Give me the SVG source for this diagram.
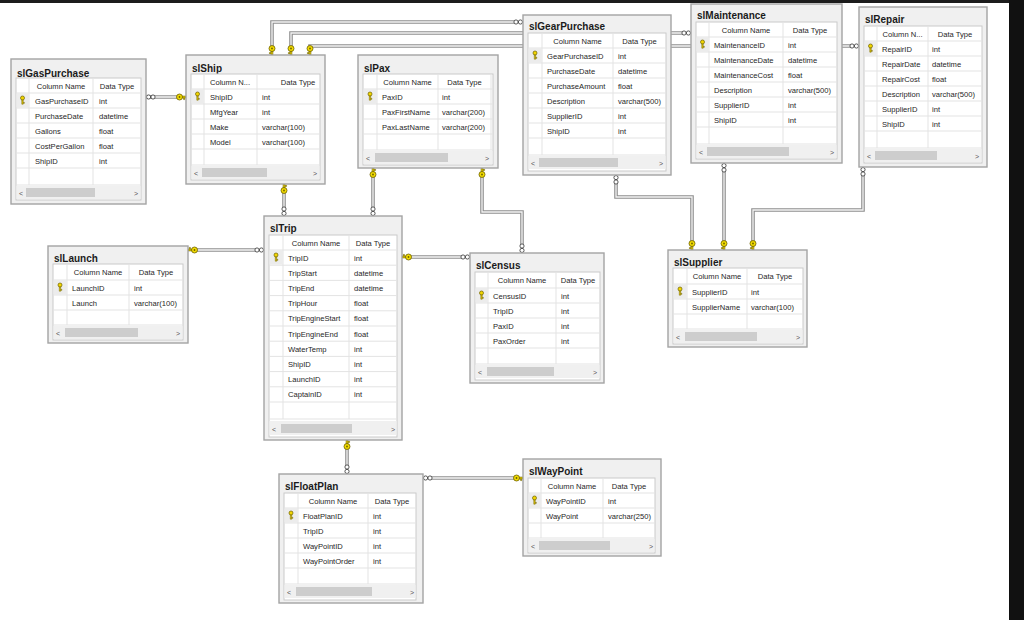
<svg xmlns="http://www.w3.org/2000/svg" xmlns:xlink="http://www.w3.org/1999/xlink" width="1024" height="620" viewBox="0 0 1024 620">
<style>
.box{fill:#f0f0f0;stroke:#a3a3a3;stroke-width:1.4}
.grid{fill:#fff;stroke:#cacaca;stroke-width:1}
.gl{stroke:#e3e3e3;stroke-width:1;fill:none}
.pkc{fill:#ececec}
.title{font-family:"Liberation Sans",Arial,sans-serif;font-weight:bold;font-size:10px;fill:#1b1b1b}
.t{font-family:"Liberation Sans",Arial,sans-serif;font-size:7.6px;fill:#262626}
.hd{font-family:"Liberation Sans",Arial,sans-serif;font-size:7.6px;fill:#262626;text-anchor:middle}
.sb{fill:#f0f0f0}
.th{fill:#cdcdcd}
.ar{font-family:"Liberation Sans",Arial,sans-serif;font-size:7px;fill:#555}
.co{fill:none;stroke:#8f8f8f;stroke-width:3.6}
.ci{fill:none;stroke:#f4f4f4;stroke-width:1.3}
</style>
<defs>
<g id="pk"><circle cx="0" cy="-2" r="2" fill="#f2d600" stroke="#6d6000" stroke-width=".7"/><path d="M-0.7 0V4.2H0.7V0Z M0.7 2.4H1.9V3.3H0.7" fill="#e6c800" stroke="#6d6000" stroke-width=".5"/></g>
<g id="kR"><path d="M-4 -0.9H0V0.9H-4Z M-2.4 0.9V2.6H-1.3V0.9" fill="#e8d000" stroke="#6d6000" stroke-width=".6"/><circle cx="-6.5" cy="0" r="3" fill="#f2dc00" stroke="#6d6000" stroke-width=".8"/><circle cx="-6.5" cy="0" r="0.9" fill="#6d6000"/></g>
<g id="iR"><circle cx="-2.6" cy="0" r="2.1" fill="#fff" stroke="#333" stroke-width=".8"/><circle cx="-7" cy="0" r="2.1" fill="#fff" stroke="#333" stroke-width=".8"/></g>
</defs>
<rect x="0" y="0" width="1024" height="620" fill="#fff"/>
<rect x="0" y="0" width="1024" height="3" fill="#1c1c1c"/>
<rect x="1009" y="0" width="15" height="620" fill="#111"/>

<g id="connectors">
<path class="co" d="M146 97H179"/><path class="ci" d="M146 97H179"/>
<path class="co" d="M272 48V22H516"/><path class="ci" d="M272 48V22H516"/>
<path class="co" d="M291 48V33H684"/><path class="ci" d="M291 48V33H684"/>
<path class="co" d="M310 48V46H852"/><path class="ci" d="M310 48V46H852"/>
<path class="co" d="M284 191V209"/><path class="ci" d="M284 191V209"/>
<path class="co" d="M373 175V209"/><path class="ci" d="M373 175V209"/>
<path class="co" d="M482 175V212H522V246"/><path class="ci" d="M482 175V212H522V246"/>
<path class="co" d="M409 257H463"/><path class="ci" d="M409 257H463"/>
<path class="co" d="M195 250H257"/><path class="ci" d="M195 250H257"/>
<path class="co" d="M347 447V467"/><path class="ci" d="M347 447V467"/>
<path class="co" d="M430 478H516"/><path class="ci" d="M430 478H516"/>
<path class="co" d="M616 182V197H692V243"/><path class="ci" d="M616 182V197H692V243"/>
<path class="co" d="M724 170V243"/><path class="ci" d="M724 170V243"/>
<path class="co" d="M863 174V210H753V243"/><path class="ci" d="M863 174V210H753V243"/>
<use href="#iR" transform="translate(146,97) rotate(180)"/>
<use href="#kR" transform="translate(186,97)"/>
<use href="#kR" transform="translate(272,55) rotate(90)"/>
<use href="#iR" transform="translate(523,22)"/>
<use href="#kR" transform="translate(291,55) rotate(90)"/>
<use href="#iR" transform="translate(691,33)"/>
<use href="#kR" transform="translate(310,55) rotate(90)"/>
<use href="#iR" transform="translate(859,46)"/>
<use href="#kR" transform="translate(284,184) rotate(-90)"/>
<use href="#iR" transform="translate(284,216) rotate(90)"/>
<use href="#kR" transform="translate(373,168) rotate(-90)"/>
<use href="#iR" transform="translate(373,216) rotate(90)"/>
<use href="#kR" transform="translate(482,168) rotate(-90)"/>
<use href="#iR" transform="translate(522,253) rotate(90)"/>
<use href="#kR" transform="translate(402,257) rotate(180)"/>
<use href="#iR" transform="translate(470,257)"/>
<use href="#kR" transform="translate(188,250) rotate(180)"/>
<use href="#iR" transform="translate(264,250)"/>
<use href="#kR" transform="translate(347,440) rotate(-90)"/>
<use href="#iR" transform="translate(347,474) rotate(90)"/>
<use href="#iR" transform="translate(423,478) rotate(180)"/>
<use href="#kR" transform="translate(523,478)"/>
<use href="#iR" transform="translate(616,175) rotate(-90)"/>
<use href="#kR" transform="translate(692,250) rotate(90)"/>
<use href="#iR" transform="translate(724,163) rotate(-90)"/>
<use href="#kR" transform="translate(724,250) rotate(90)"/>
<use href="#iR" transform="translate(863,167) rotate(-90)"/>
<use href="#kR" transform="translate(753,250) rotate(90)"/>
</g>

<g id="slGasPurchase">
<rect class="box" x="11" y="59" width="135" height="145"/>
<text class="title" x="17" y="77">slGasPurchase</text>
<rect class="grid" x="16" y="78" width="125" height="122"/>
<rect class="pkc" x="16.5" y="93.5" width="12" height="14"/>
<path class="gl" d="M16 93H141M16 108H141M16 123H141M16 138H141M16 153H141M16 168H141M16 185H141M29 78V185M93 78V185"/>
<use href="#pk" x="22.5" y="100"/>
<text class="hd" x="61" y="88.5">Column Name</text><text class="hd" x="117" y="88.5">Data Type</text>
<text class="t" x="35" y="103.5">GasPurchaseID</text><text class="t" x="99" y="103.5">int</text>
<text class="t" x="35" y="118.5">PurchaseDate</text><text class="t" x="99" y="118.5">datetime</text>
<text class="t" x="35" y="133.5">Gallons</text><text class="t" x="99" y="133.5">float</text>
<text class="t" x="35" y="148.5">CostPerGallon</text><text class="t" x="99" y="148.5">float</text>
<text class="t" x="35" y="163.5">ShipID</text><text class="t" x="99" y="163.5">int</text>
<rect class="sb" x="16.5" y="186" width="124" height="13"/><rect class="th" x="26" y="188" width="69" height="9"/>
<text class="ar" x="19" y="195.5">&lt;</text><text class="ar" x="134" y="195.5">&gt;</text>
</g>

<g id="slShip">
<rect class="box" x="186" y="55" width="139" height="129"/>
<text class="title" x="192" y="72">slShip</text>
<rect class="grid" x="191" y="74" width="129" height="106"/>
<rect class="pkc" x="191.5" y="89.5" width="12" height="14"/>
<path class="gl" d="M191 89H320M191 104H320M191 119H320M191 134H320M191 149H320M191 165H320M204 74V165M257 74V165"/>
<use href="#pk" x="197.5" y="96"/>
<text class="hd" x="230" y="84.5">Column N...</text><text class="hd" x="298" y="84.5">Data Type</text>
<text class="t" x="210" y="99.5">ShipID</text><text class="t" x="262" y="99.5">int</text>
<text class="t" x="210" y="114.5">MfgYear</text><text class="t" x="262" y="114.5">int</text>
<text class="t" x="210" y="129.5">Make</text><text class="t" x="262" y="129.5">varchar(100)</text>
<text class="t" x="210" y="144.5">Model</text><text class="t" x="262" y="144.5">varchar(100)</text>
<rect class="sb" x="191.5" y="166" width="128" height="13"/><rect class="th" x="202" y="168" width="65" height="9"/>
<text class="ar" x="194" y="175.5">&lt;</text><text class="ar" x="313" y="175.5">&gt;</text>
</g>

<g id="slPax">
<rect class="box" x="358" y="55" width="140" height="113"/>
<text class="title" x="364" y="72">slPax</text>
<rect class="grid" x="363" y="74" width="130" height="91"/>
<rect class="pkc" x="363.5" y="89.5" width="13" height="14"/>
<path class="gl" d="M363 89H493M363 104H493M363 119H493M363 134H493M363 150H493M377 74V150M438 74V150M491 74V150"/>
<use href="#pk" x="370" y="96"/>
<text class="hd" x="407.5" y="84.5">Column Name</text><text class="hd" x="464.5" y="84.5">Data Type</text>
<text class="t" x="382" y="99.5">PaxID</text><text class="t" x="442" y="99.5">int</text>
<text class="t" x="382" y="114.5">PaxFirstName</text><text class="t" x="442" y="114.5">varchar(200)</text>
<text class="t" x="382" y="129.5">PaxLastName</text><text class="t" x="442" y="129.5">varchar(200)</text>
<rect class="sb" x="363.5" y="151" width="129" height="13"/><rect class="th" x="375" y="153" width="73" height="9"/>
<text class="ar" x="366" y="160.5">&lt;</text><text class="ar" x="485" y="160.5">&gt;</text>
</g>

<g id="slGearPurchase">
<rect class="box" x="523" y="15" width="148" height="160"/>
<text class="title" x="529" y="30">slGearPurchase</text>
<rect class="grid" x="528" y="33" width="138" height="138"/>
<rect class="pkc" x="528.5" y="48.5" width="13" height="14"/>
<path class="gl" d="M528 48H666M528 63H666M528 78H666M528 93H666M528 108H666M528 123H666M528 138H666M528 155H666M542 33V155M613 33V155"/>
<use href="#pk" x="535" y="55"/>
<text class="hd" x="577.5" y="43.5">Column Name</text><text class="hd" x="639.5" y="43.5">Data Type</text>
<text class="t" x="547" y="58.5">GearPurchaseID</text><text class="t" x="618" y="58.5">int</text>
<text class="t" x="547" y="73.5">PurchaseDate</text><text class="t" x="618" y="73.5">datetime</text>
<text class="t" x="547" y="88.5">PurchaseAmount</text><text class="t" x="618" y="88.5">float</text>
<text class="t" x="547" y="103.5">Description</text><text class="t" x="618" y="103.5">varchar(500)</text>
<text class="t" x="547" y="118.5">SupplierID</text><text class="t" x="618" y="118.5">int</text>
<text class="t" x="547" y="133.5">ShipID</text><text class="t" x="618" y="133.5">int</text>
<rect class="sb" x="528.5" y="156" width="137" height="13"/><rect class="th" x="539" y="158" width="79" height="9"/>
<text class="ar" x="531" y="165.5">&lt;</text><text class="ar" x="659" y="165.5">&gt;</text>
</g>

<g id="slMaintenance">
<rect class="box" x="691" y="4" width="151" height="159"/>
<text class="title" x="697" y="19">slMaintenance</text>
<rect class="grid" x="696" y="22" width="141" height="137"/>
<rect class="pkc" x="696.5" y="37.5" width="12" height="14"/>
<path class="gl" d="M696 37H837M696 52H837M696 67H837M696 82H837M696 97H837M696 112H837M696 127H837M696 144H837M709 22V144M783 22V144"/>
<use href="#pk" x="702.5" y="44"/>
<text class="hd" x="746" y="32.5">Column Name</text><text class="hd" x="810" y="32.5">Data Type</text>
<text class="t" x="714" y="47.5">MaintenanceID</text><text class="t" x="788" y="47.5">int</text>
<text class="t" x="714" y="62.5">MaintenanceDate</text><text class="t" x="788" y="62.5">datetime</text>
<text class="t" x="714" y="77.5">MaintenanceCost</text><text class="t" x="788" y="77.5">float</text>
<text class="t" x="714" y="92.5">Description</text><text class="t" x="788" y="92.5">varchar(500)</text>
<text class="t" x="714" y="107.5">SupplierID</text><text class="t" x="788" y="107.5">int</text>
<text class="t" x="714" y="122.5">ShipID</text><text class="t" x="788" y="122.5">int</text>
<rect class="sb" x="696.5" y="145" width="140" height="13"/><rect class="th" x="707" y="147" width="82" height="9"/>
<text class="ar" x="699" y="154.5">&lt;</text><text class="ar" x="830" y="154.5">&gt;</text>
</g>

<g id="slRepair">
<rect class="box" x="859" y="7" width="128" height="160"/>
<text class="title" x="865" y="23">slRepair</text>
<rect class="grid" x="864" y="26" width="118" height="137"/>
<rect class="pkc" x="864.5" y="41.5" width="12" height="14"/>
<path class="gl" d="M864 41H982M864 56H982M864 71H982M864 86H982M864 101H982M864 116H982M864 131H982M864 148H982M877 26V148M928 26V148"/>
<use href="#pk" x="870.5" y="48"/>
<text class="hd" x="902.5" y="36.5">Column N...</text><text class="hd" x="955" y="36.5">Data Type</text>
<text class="t" x="882" y="51.5">RepairID</text><text class="t" x="932" y="51.5">int</text>
<text class="t" x="882" y="66.5">RepairDate</text><text class="t" x="932" y="66.5">datetime</text>
<text class="t" x="882" y="81.5">RepairCost</text><text class="t" x="932" y="81.5">float</text>
<text class="t" x="882" y="96.5">Description</text><text class="t" x="932" y="96.5">varchar(500)</text>
<text class="t" x="882" y="111.5">SupplierID</text><text class="t" x="932" y="111.5">int</text>
<text class="t" x="882" y="126.5">ShipID</text><text class="t" x="932" y="126.5">int</text>
<rect class="sb" x="864.5" y="149" width="117" height="13"/><rect class="th" x="875" y="151" width="62" height="9"/>
<text class="ar" x="867" y="158.5">&lt;</text><text class="ar" x="975" y="158.5">&gt;</text>
</g>

<g id="slLaunch">
<rect class="box" x="48" y="246" width="140" height="97"/>
<text class="title" x="54" y="262">slLaunch</text>
<rect class="grid" x="53" y="264" width="130" height="76"/>
<rect class="pkc" x="53.5" y="280.5" width="13" height="14"/>
<path class="gl" d="M53 280H183M53 295H183M53 310H183M53 325H183M67 264V325M129 264V325"/>
<use href="#pk" x="60" y="287"/>
<text class="hd" x="98" y="275">Column Name</text><text class="hd" x="156" y="275">Data Type</text>
<text class="t" x="72" y="290.5">LaunchID</text><text class="t" x="134" y="290.5">int</text>
<text class="t" x="72" y="305.5">Launch</text><text class="t" x="134" y="305.5">varchar(100)</text>
<rect class="sb" x="53.5" y="326" width="129" height="13"/><rect class="th" x="65" y="328" width="73" height="9"/>
<text class="ar" x="56" y="335.5">&lt;</text><text class="ar" x="176" y="335.5">&gt;</text>
</g>

<g id="slTrip">
<rect class="box" x="264" y="216" width="138" height="224"/>
<text class="title" x="270" y="232">slTrip</text>
<rect class="grid" x="269" y="235" width="128" height="202"/>
<rect class="pkc" x="269.5" y="250.5" width="13" height="14"/>
<path class="gl" d="M269 250H397M269 265.2H397M269 280.4H397M269 295.6H397M269 310.8H397M269 326H397M269 341.2H397M269 356.4H397M269 371.6H397M269 386.8H397M269 402H397M269 419H397M283 235V419M349 235V419"/>
<use href="#pk" x="276" y="257"/>
<text class="hd" x="316" y="245.5">Column Name</text><text class="hd" x="373" y="245.5">Data Type</text>
<text class="t" x="288" y="260.5">TripID</text><text class="t" x="354" y="260.5">int</text>
<text class="t" x="288" y="275.7">TripStart</text><text class="t" x="354" y="275.7">datetime</text>
<text class="t" x="288" y="290.9">TripEnd</text><text class="t" x="354" y="290.9">datetime</text>
<text class="t" x="288" y="306.1">TripHour</text><text class="t" x="354" y="306.1">float</text>
<text class="t" x="288" y="321.3">TripEngineStart</text><text class="t" x="354" y="321.3">float</text>
<text class="t" x="288" y="336.5">TripEngineEnd</text><text class="t" x="354" y="336.5">float</text>
<text class="t" x="288" y="351.7">WaterTemp</text><text class="t" x="354" y="351.7">int</text>
<text class="t" x="288" y="366.9">ShipID</text><text class="t" x="354" y="366.9">int</text>
<text class="t" x="288" y="382.1">LaunchID</text><text class="t" x="354" y="382.1">int</text>
<text class="t" x="288" y="397.3">CaptainID</text><text class="t" x="354" y="397.3">int</text>
<rect class="sb" x="269.5" y="421" width="127" height="14"/><rect class="th" x="281" y="424" width="71" height="9"/>
<text class="ar" x="272" y="431.5">&lt;</text><text class="ar" x="391" y="431.5">&gt;</text>
</g>

<g id="slCensus">
<rect class="box" x="470" y="253" width="134" height="130"/>
<text class="title" x="476" y="269">slCensus</text>
<rect class="grid" x="475" y="272" width="125" height="108"/>
<rect class="pkc" x="475.5" y="288.5" width="12" height="14"/>
<path class="gl" d="M475 288H600M475 303H600M475 318H600M475 333H600M475 348H600M475 364H600M488 272V364M556 272V364"/>
<use href="#pk" x="481.5" y="295"/>
<text class="hd" x="522" y="283">Column Name</text><text class="hd" x="578" y="283">Data Type</text>
<text class="t" x="493" y="298.5">CensusID</text><text class="t" x="561" y="298.5">int</text>
<text class="t" x="493" y="313.5">TripID</text><text class="t" x="561" y="313.5">int</text>
<text class="t" x="493" y="328.5">PaxID</text><text class="t" x="561" y="328.5">int</text>
<text class="t" x="493" y="343.5">PaxOrder</text><text class="t" x="561" y="343.5">int</text>
<rect class="sb" x="475.5" y="365" width="124" height="13"/><rect class="th" x="487" y="367" width="67" height="9"/>
<text class="ar" x="478" y="374.5">&lt;</text><text class="ar" x="593" y="374.5">&gt;</text>
</g>

<g id="slSupplier">
<rect class="box" x="668" y="250" width="139" height="97"/>
<text class="title" x="674" y="266">slSupplier</text>
<rect class="grid" x="673" y="268" width="130" height="76"/>
<rect class="pkc" x="673.5" y="284.5" width="13" height="14"/>
<path class="gl" d="M673 284H803M673 299H803M673 314H803M673 329H803M687 268V329M747 268V329"/>
<use href="#pk" x="680" y="291"/>
<text class="hd" x="717" y="279">Column Name</text><text class="hd" x="775" y="279">Data Type</text>
<text class="t" x="692" y="294.5">SupplierID</text><text class="t" x="751" y="294.5">int</text>
<text class="t" x="692" y="309.5">SupplierName</text><text class="t" x="751" y="309.5">varchar(100)</text>
<rect class="sb" x="673.5" y="330" width="129" height="13"/><rect class="th" x="685" y="332" width="72" height="9"/>
<text class="ar" x="676" y="339.5">&lt;</text><text class="ar" x="796" y="339.5">&gt;</text>
</g>

<g id="slFloatPlan">
<rect class="box" x="279" y="474" width="144" height="129"/>
<text class="title" x="285" y="490">slFloatPlan</text>
<rect class="grid" x="284" y="493" width="132" height="107"/>
<rect class="pkc" x="284.5" y="508.5" width="13" height="14"/>
<path class="gl" d="M284 508H416M284 523H416M284 538H416M284 553H416M284 568H416M284 584H416M298 493V584M368 493V584"/>
<use href="#pk" x="291" y="515"/>
<text class="hd" x="333" y="503.5">Column Name</text><text class="hd" x="392" y="503.5">Data Type</text>
<text class="t" x="303" y="518.5">FloatPlanID</text><text class="t" x="373" y="518.5">int</text>
<text class="t" x="303" y="533.5">TripID</text><text class="t" x="373" y="533.5">int</text>
<text class="t" x="303" y="548.5">WayPointID</text><text class="t" x="373" y="548.5">int</text>
<text class="t" x="303" y="563.5">WayPointOrder</text><text class="t" x="373" y="563.5">int</text>
<rect class="sb" x="284.5" y="585" width="131" height="13"/><rect class="th" x="296" y="587" width="76" height="9"/>
<text class="ar" x="287" y="594.5">&lt;</text><text class="ar" x="410" y="594.5">&gt;</text>
</g>

<g id="slWayPoint">
<rect class="box" x="523" y="459" width="138" height="97"/>
<text class="title" x="529" y="475">slWayPoint</text>
<rect class="grid" x="528" y="478" width="127" height="75"/>
<rect class="pkc" x="528.5" y="493.5" width="12" height="14"/>
<path class="gl" d="M528 493H655M528 508H655M528 523H655M528 538H655M541 478V538M603 478V538"/>
<use href="#pk" x="534.5" y="500"/>
<text class="hd" x="572" y="488.5">Column Name</text><text class="hd" x="629" y="488.5">Data Type</text>
<text class="t" x="546" y="503.5">WayPointID</text><text class="t" x="608" y="503.5">int</text>
<text class="t" x="546" y="518.5">WayPoint</text><text class="t" x="608" y="518.5">varchar(250)</text>
<rect class="sb" x="528.5" y="539" width="126" height="13"/><rect class="th" x="539" y="541" width="71" height="9"/>
<text class="ar" x="531" y="548.5">&lt;</text><text class="ar" x="649" y="548.5">&gt;</text>
</g>
</svg>
